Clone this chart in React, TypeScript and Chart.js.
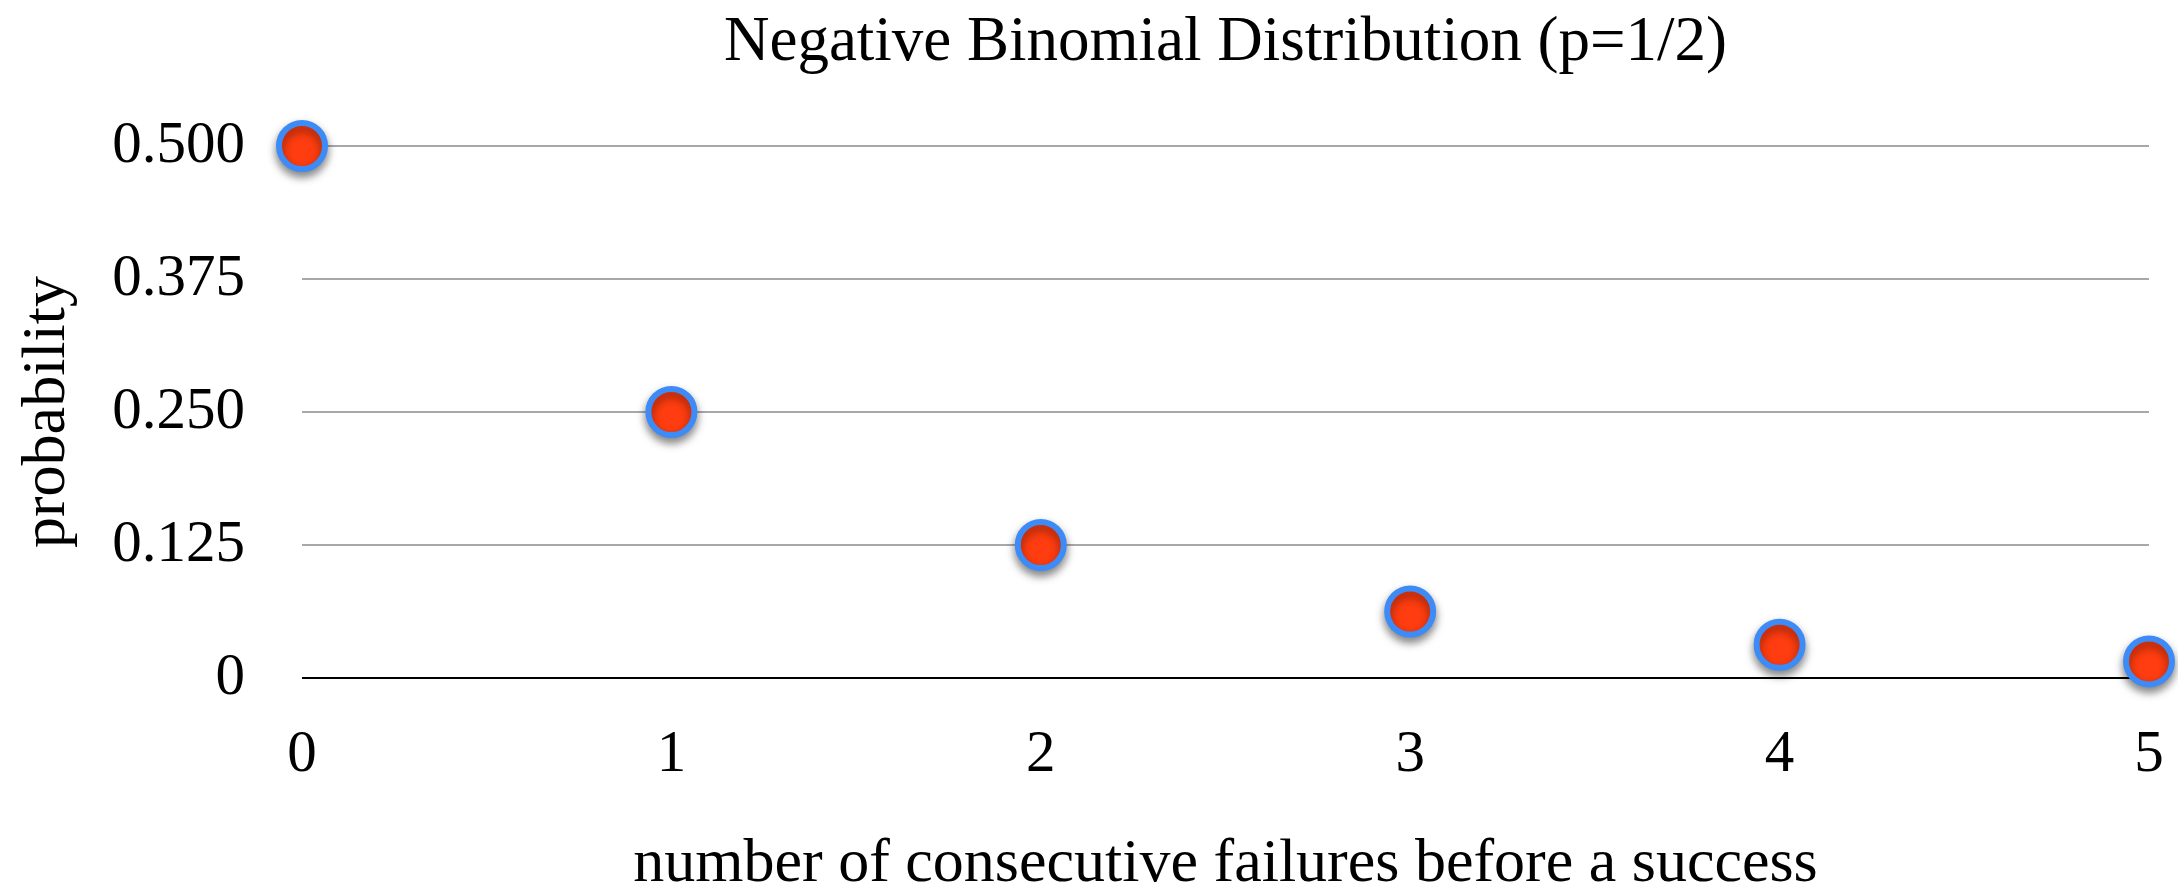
import React, { useEffect, useRef } from "react";
import { Chart, registerables } from "chart.js";

Chart.register(...registerables);

const failures: number[] = [0, 1, 2, 3, 4, 5];
const probabilities: number[] = [0.5, 0.25, 0.125, 0.0625, 0.03125, 0.015625];
const yTickValues: number[] = [0, 0.125, 0.25, 0.375, 0.5];
const yTickLabels: string[] = ["0", "0.125", "0.250", "0.375", "0.500"];
const xTickLabels: string[] = ["0", "1", "2", "3", "4", "5"];

const titleText = "Negative Binomial Distribution (p=1/2)";
const xTitle = "number of consecutive failures before a success";
const yTitle = "probability";

const FONT = "'Liberation Serif', 'Times New Roman', serif";

const shadowPlugin = {
  id: "pointShadow",
  beforeDatasetsDraw(chart: any) {
    const ctx = chart.ctx;
    ctx.save();
    ctx.shadowColor = "rgba(0,0,0,0.45)";
    ctx.shadowBlur = 10;
    ctx.shadowOffsetX = 0;
    ctx.shadowOffsetY = 5;
  },
  afterDatasetsDraw(chart: any) {
    chart.ctx.restore();
  },
};

export default function App() {
  const ref = useRef<HTMLCanvasElement | null>(null);

  useEffect(() => {
    if (!ref.current) return;
    const chart = new Chart(ref.current, {
      type: "scatter",
      data: {
        datasets: [
          {
            data: failures.map((x, i) => ({ x, y: probabilities[i] })),
            backgroundColor: "#FF3D10",
            borderColor: "#3D8BF7",
            borderWidth: 6,
            pointRadius: 23,
            pointHoverRadius: 23,
            showLine: false,
            clip: false as any,
          },
        ],
      },
      plugins: [shadowPlugin],
      options: {
        animation: false,
        responsive: false,
        devicePixelRatio: 1,
        events: [],
        layout: { padding: { left: 0, right: 21, top: 0, bottom: 0 } },
        plugins: {
          legend: { display: false },
          tooltip: { enabled: false },
          title: {
            display: true,
            fullSize: false,
            text: titleText,
            color: "#000",
            font: { family: FONT, size: 63, weight: "normal", lineHeight: 1.2 },
            padding: { top: 6, bottom: 64.4 },
          },
        },
        scales: {
          x: {
            type: "linear",
            min: 0,
            max: 5,
            afterFit(scale: any) {
              scale.height = 206;
              scale.paddingLeft = 0;
              scale.paddingRight = 0;
            },
            grid: { display: false, drawTicks: false },
            border: { display: false },
            ticks: {
              stepSize: 1,
              padding: 42,
              color: "#000",
              font: { family: FONT, size: 59 },
              maxRotation: 0,
              callback: (v: any) => {
                const i = failures.indexOf(Number(v));
                return i >= 0 ? xTickLabels[i] : "";
              },
            },
            title: {
              display: true,
              text: xTitle,
              color: "#000",
              font: { family: FONT, size: 62, lineHeight: 0.6 },
              padding: { top: 0, bottom: 1 },
            },
          },
          y: {
            type: "linear",
            min: 0,
            max: 0.5,
            afterFit(scale: any) {
              scale.width = 302;
              scale.paddingTop = 0;
              scale.paddingBottom = 0;
            },
            grid: {
              drawTicks: false,
              lineWidth: 2,
              color: (c: any) => (c.tick && c.tick.value === 0 ? "#000000" : "#A8A8A8"),
            },
            border: { display: false },
            ticks: {
              stepSize: 0.0625,
              padding: 57,
              color: "#000",
              font: { family: FONT, size: 59 },
              callback: (v: any) => {
                const idx = yTickValues.findIndex((t) => Math.abs(t - Number(v)) < 1e-9);
                return idx >= 0 ? yTickLabels[idx] : "";
              },
            },
            title: {
              display: true,
              text: yTitle,
              color: "#000",
              font: { family: FONT, size: 62, lineHeight: 0.8 },
              padding: { top: 23, bottom: 0 },
            },
          },
        },
      } as any,
    });
    return () => chart.destroy();
  }, []);

  return (
    <div style={{ position: "absolute", left: 0, top: 0, width: 2178, height: 884, background: "#fff" }}>
      <canvas ref={ref} width={2178} height={884} style={{ display: "block", width: 2178, height: 884 }} />
    </div>
  );
}
